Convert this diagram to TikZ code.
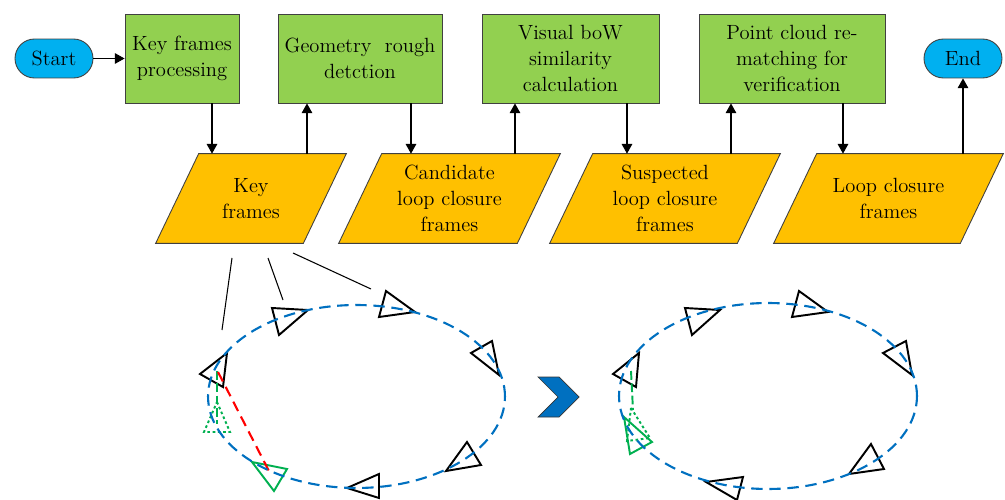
\documentclass[tikz,border=0pt]{standalone}
\usetikzlibrary{arrows.meta,shapes.misc,backgrounds}
\definecolor{boxgreen}{HTML}{92D050}
\definecolor{paraorange}{HTML}{FFC000}
\definecolor{startblue}{HTML}{00B0F0}
\definecolor{loopblue}{HTML}{0070C0}
\definecolor{camgreen}{HTML}{00B050}
\begin{document}
\begin{tikzpicture}[x=0.02cm,y=-0.02cm,
  font=\rmfamily\fontsize{11.7}{14.6}\selectfont,
  proc/.style={draw=black!75, fill=boxgreen, line width=0.5pt, minimum height=1.78cm, align=center, inner sep=0pt},
  term/.style={rounded rectangle, draw=black!75, fill=startblue, minimum width=1.56cm, minimum height=0.78cm, line width=0.5pt, inner sep=0pt},
  datab/.style={minimum height=1.78cm, align=center, inner sep=0pt},
  para/.style={draw=black!75, fill=paraorange, line width=0.5pt},
  arr/.style={-{Triangle[length=5.5pt,width=6pt]}, line width=0.6pt},
  thin line/.style={line width=0.6pt},
  cam/.style={line width=1.1pt, line join=miter},
  camg/.style={line width=1.1pt, camgreen},
  camgdot/.style={line width=1.1pt, camgreen, dash pattern=on 1.5pt off 1.5pt},
  trajectory/.style={loopblue, line width=1.2pt, dash pattern=on 6.5pt off 3.8pt},
  redline/.style={red, line width=1.2pt, dash pattern=on 6pt off 3.5pt},
  greendash/.style={camgreen, line width=1.1pt, dash pattern=on 5pt off 2pt}
]
\useasboundingbox (0,0) rectangle (1005,500);

% terminals
\node[term] (start) at (54,58.5) {Start};
\node[term] (end) at (963,58.5) {End};

% process boxes
\node[proc, minimum width=2.28cm] (kfp) at (182,58.5) {Key frames\\processing};
\node[proc, minimum width=3.28cm] (geo) at (360,58.5) {Geometry\ \ rough\\detction};
\node[proc, minimum width=3.54cm] (vis) at (570.5,58.5) {Visual boW\\similarity\\calculation};
\node[proc, minimum width=3.72cm] (pc) at (792,58.5) {Point cloud re-\\matching for\\verification};

% data (parallelogram) nodes
\node[datab, minimum width=2.94cm] (kf) at (251,198.5) {Key\\frames};
\node[datab, minimum width=3.56cm] (cand) at (449.5,198.5) {Candidate\\loop closure\\frames};
\node[datab, minimum width=3.74cm] (susp) at (665,198.5) {Suspected\\loop closure\\frames};
\node[datab, minimum width=3.72cm] (loop) at (888.5,198.5) {Loop closure\\frames};

\begin{pgfonlayer}{background}
\foreach \n in {kf,cand,susp,loop}{
  \draw[para] ([xshift=0.43cm]\n.north west) -- ([xshift=0.43cm]\n.north east)
    -- ([xshift=-0.43cm]\n.south east) -- ([xshift=-0.43cm]\n.south west) -- cycle;
}
\end{pgfonlayer}

% connectors
\draw[arr] (start.east) -- (kfp.west);
\draw[arr] ([xshift=0.6cm]kfp.south) -- ([xshift=0.6cm]kfp.south |- kf.north);
\draw[arr] ([xshift=1.12cm]kf.north) -- ([xshift=1.12cm]kf.north |- geo.south);
\draw[arr] ([xshift=1.02cm]geo.south) -- ([xshift=1.02cm]geo.south |- cand.north);
\draw[arr] ([xshift=1.31cm]cand.north) -- ([xshift=1.31cm]cand.north |- vis.south);
\draw[arr] ([xshift=1.13cm]vis.south) -- ([xshift=1.13cm]vis.south |- susp.north);
\draw[arr] ([xshift=1.32cm]susp.north) -- ([xshift=1.32cm]susp.north |- pc.south);
\draw[arr] ([xshift=1.02cm]pc.south) -- ([xshift=1.02cm]pc.south |- loop.north);
\draw[arr] (loop.north -| end.south) -- (end.south);

% leader lines from key frames to the trajectory
\coordinate (l1a) at (232,258); \coordinate (l1b) at (222,330);
\coordinate (l2a) at (268,258); \coordinate (l2b) at (283,300);
\coordinate (l3a) at (293,253); \coordinate (l3b) at (371,289);
\draw[thin line] (l1a) -- (l1b);
\draw[thin line] (l2a) -- (l2b);
\draw[thin line] (l3a) -- (l3b);

% ---- left trajectory ----
\draw[cam] (200,374) -- (227,353) -- (223,387) -- cycle;
\draw[cam] (272,308) -- (308,310) -- (279,335) -- cycle;
\draw[cam] (386,291) -- (415,312) -- (379,317) -- cycle;
\draw[cam] (492,341) -- (499,375) -- (471,353) -- cycle;
\draw[cam] (467,442) -- (481,465) -- (446,471) -- cycle;
\draw[cam] (379,474) -- (379,498) -- (347,488) -- cycle;
\draw[camg] (252,462) -- (287,469) -- (274,491) -- cycle;
\draw[camgdot] (217,402) -- (230,432) -- (204,432) -- cycle;
\draw[greendash] (217,371) -- (217,424);
\draw[redline] (218,372) -- (271,475);
\draw[trajectory] (356.5,396.5) ellipse [x radius=2.97cm, y radius=1.83cm];

% chevron
\draw[fill=loopblue, draw=black!80, line width=0.4pt] (538,377) -- (559,377) -- (579,397) -- (559,417) -- (538,417) -- (558,397) -- cycle;

% ---- right trajectory ----
\draw[cam] (613,374) -- (639,353) -- (636,387) -- cycle;
\draw[cam] (685,308) -- (720,310) -- (692,335) -- cycle;
\draw[cam] (799,291) -- (828,312) -- (792,317) -- cycle;
\draw[cam] (906,341) -- (912,375) -- (883,353) -- cycle;
\draw[cam] (871,444) -- (884,469) -- (849,474) -- cycle;
\draw[cam] (743,477) -- (737,500) -- (706,482) -- cycle;
\draw[camg] (624,417) -- (652,442) -- (630,454) -- cycle;
\draw[camgdot] (631,408) -- (650,438) -- (627,441) -- cycle;
\draw[greendash] (631,371) -- (633,410);
\draw[trajectory] (768,396) ellipse [x radius=2.98cm, y radius=1.86cm];
\end{tikzpicture}
\end{document}
